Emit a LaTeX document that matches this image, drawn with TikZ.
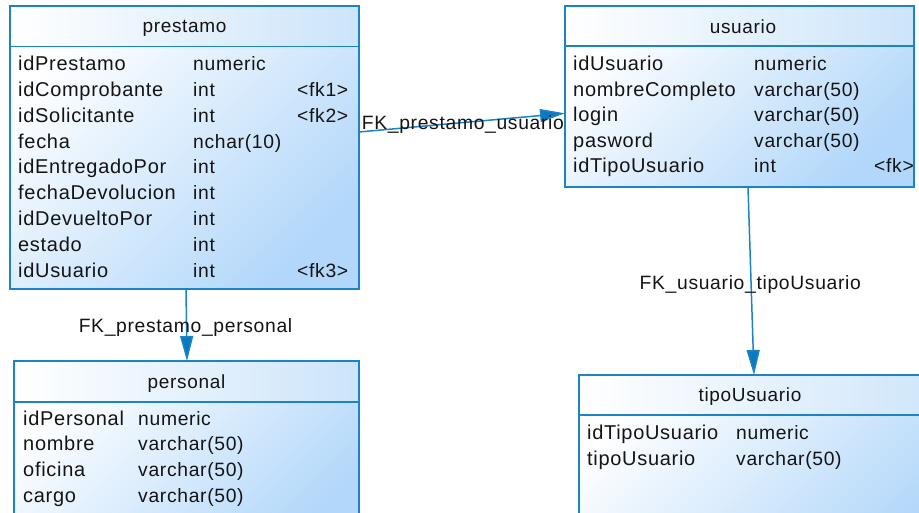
\documentclass[tikz,border=0pt]{standalone}
\usepackage{fontspec}
\setmainfont{Liberation Sans}[LetterSpace=3.5]
\usetikzlibrary{arrows.meta}
\definecolor{edge}{RGB}{28,132,198}
\definecolor{tipblue}{RGB}{10,122,192}
\definecolor{bodyblue}{RGB}{178,215,250}
\definecolor{headblue}{RGB}{204,228,250}
\definecolor{ink}{RGB}{20,20,20}
\tikzset{
  tbl/.style={draw=edge, line width=1.5pt, inner sep=0pt, outer sep=0pt,
    anchor=north west, top color=white, bottom color=bodyblue, shading angle=45},
  hdr/.style={draw=edge, line width=1.5pt, inner sep=0pt, outer sep=0pt,
    anchor=north west, left color=white, right color=headblue},
  cell/.style={anchor=base west, inner sep=0pt, text=ink,
    font=\fontsize{20}{24}\selectfont},
  typecell/.style={anchor=base west, inner sep=0pt, text=ink,
    font=\fontsize{19.3}{23}\selectfont},
  title/.style={anchor=base, inner sep=0pt, text=ink,
    font=\fontsize{19}{23}\selectfont},
  lbl/.style={inner sep=0pt, text=ink, font=\fontsize{19.3}{23}\selectfont},
  fk/.style={draw=edge, line width=1.5pt,
    -{Triangle[length=25pt,width=13pt,fill=tipblue]}}
}
\begin{document}
\begin{tikzpicture}[x=1pt,y=-1pt]
\useasboundingbox (0,0) rectangle (919,512);
\clip (0,0) rectangle (919,512);
\fill[white] (0,0) rectangle (919,512);

% ---- table prestamo
\node[tbl, minimum width=349pt, minimum height=283pt] (prestamo) at (10,6) {};
\node[hdr, minimum width=349pt, minimum height=40.5pt] (prestamoH) at (10,6) {};
\node[title] (prestamoT) at (184.5,32.5) {prestamo};
\foreach \n/\t [count=\i from 0] in {idPrestamo/numeric, idComprobante/int,
    idSolicitante/int, fecha/nchar(10), idEntregadoPor/int,
    fechaDevolucion/int, idDevueltoPor/int, estado/int, idUsuario/int} {
  \node[cell] (prestamo-n\i) at (18,{70.7+25.8*\i}) {\n};
  \node[typecell] (prestamo-t\i) at (193,{70.7+25.8*\i}) {\t};
}
\node[typecell] (prestamo-k1) at (297,96.5) {<fk1>};
\node[typecell] (prestamo-k2) at (297,122.3) {<fk2>};
\node[typecell] (prestamo-k3) at (297,277.1) {<fk3>};

% ---- table usuario
\node[tbl, minimum width=349pt, minimum height=181pt] (usuario) at (565,6) {};
\node[hdr, minimum width=349pt, minimum height=40pt] (usuarioH) at (565,6) {};
\node[title] (usuarioT) at (743,33) {usuario};
\foreach \n/\t [count=\i from 0] in {idUsuario/numeric,
    nombreCompleto/varchar(50), login/varchar(50), pasword/varchar(50),
    idTipoUsuario/int} {
  \node[cell] (usuario-n\i) at (573,{70.5+25.6*\i}) {\n};
  \node[typecell] (usuario-t\i) at (754,{70.5+25.6*\i}) {\t};
}
\node[typecell] (usuario-k) at (874,172.9) {<fk>};

% ---- table personal
\node[tbl, minimum width=345pt, minimum height=190pt] (personal) at (14,361) {};
\node[hdr, minimum width=345pt, minimum height=41pt] (personalH) at (14,361) {};
\node[title] (personalT) at (186.5,388) {personal};
\foreach \n/\t [count=\i from 0] in {idPersonal/numeric, nombre/varchar(50),
    oficina/varchar(50), cargo/varchar(50)} {
  \node[cell] (personal-n\i) at (23,{425+25.9*\i}) {\n};
  \node[typecell] (personal-t\i) at (138,{425+25.9*\i}) {\t};
}

% ---- table tipoUsuario
\node[tbl, minimum width=381pt, minimum height=180pt] (tipo) at (579,375) {};
\node[hdr, minimum width=381pt, minimum height=40pt] (tipoH) at (579,375) {};
\node[title] (tipoT) at (750,401.5) {tipoUsuario};
\foreach \n/\t [count=\i from 0] in {idTipoUsuario/numeric,
    tipoUsuario/varchar(50)} {
  \node[cell] (tipo-n\i) at (587,{439.3+26*\i}) {\n};
  \node[typecell] (tipo-t\i) at (736,{439.3+26*\i}) {\t};
}

% ---- foreign keys
\draw[fk] ([yshift=15.5pt]prestamo.east) -- ([yshift=-16.8pt]usuario.west);
\draw[fk] ([xshift=1.5pt]prestamo.south) -- ([xshift=0.5pt]personal.north);
\draw[fk] ([xshift=8.5pt]usuario.south) -- ([xshift=-15.5pt]tipo.north);

\node[lbl, anchor=base west] (fk1) at (361.7,129.3) {FK\_prestamo\_usuario};
\node[lbl, anchor=base] (fk2) at (185.5,332.3) {FK\_prestamo\_personal};
\node[lbl, anchor=base] (fk3) at (750.3,289.3) {FK\_usuario\_tipoUsuario};
\end{tikzpicture}
\end{document}
